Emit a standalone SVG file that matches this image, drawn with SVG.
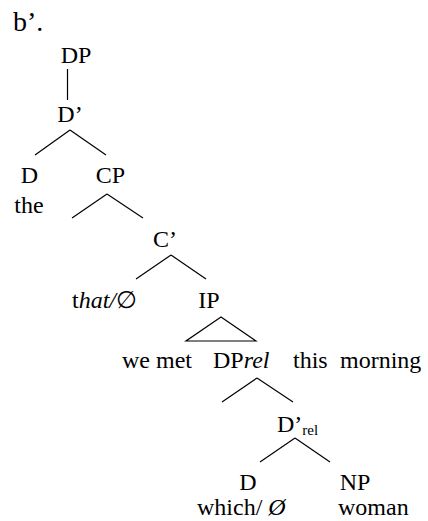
<svg xmlns="http://www.w3.org/2000/svg" width="428" height="521" viewBox="0 0 428 521">
<style>
text{font-family:"Liberation Serif","Times New Roman",serif;font-size:24px;fill:#000}
.m{text-anchor:middle}
.i{font-style:italic}
.sub{font-size:15px}
.big{font-size:28px}
line,polygon{stroke:#000;stroke-width:1.2;fill:none}
</style>
<rect width="428" height="521" fill="#fff"/>
<text class="big" x="13" y="31">b&#8217;.</text>
<g id="connectors">
<line x1="67.5" y1="69" x2="67.5" y2="100"/>
<line x1="70" y1="130" x2="35" y2="155"/>
<line x1="70" y1="130" x2="106" y2="155"/>
<line x1="107" y1="194" x2="72" y2="218"/>
<line x1="107" y1="194" x2="143" y2="218"/>
<line x1="171" y1="255" x2="136" y2="279"/>
<line x1="171" y1="255" x2="206" y2="279"/>
<polygon points="221,317 186,341 256,341"/>
<line x1="257" y1="378" x2="222" y2="402"/>
<line x1="257" y1="378" x2="293" y2="402"/>
<line x1="295" y1="438" x2="260" y2="462"/>
<line x1="295" y1="438" x2="330" y2="462"/>
</g>
<g id="DP"><text class="m" x="76" y="63">DP</text></g>
<g id="Dbar"><text class="m" x="70" y="122">D&#8217;</text></g>
<g id="D"><text class="m" x="29.5" y="183">D</text><text class="m" x="29" y="213">the</text></g>
<g id="CP"><text class="m" x="110.5" y="183">CP</text></g>
<g id="Cbar"><text class="m" x="165" y="247">C&#8217;</text></g>
<g id="C"><text x="72" y="308">t<tspan class="i">hat/</tspan>&#8709;</text></g>
<g id="IP"><text class="m" x="209" y="308">IP</text></g>
<g id="IPyield">
<text x="122" y="368">we met</text>
<text x="213" y="368">DP<tspan class="i">rel</tspan></text>
<text x="293" y="368">this</text>
<text x="340" y="368">morning</text>
</g>
<g id="Dbarrel"><text x="277" y="432">D&#8217;<tspan class="sub" dy="3">rel</tspan></text></g>
<g id="Drel"><text class="m" x="248" y="490">D</text><text x="197" y="515">which/ <tspan class="i">&#216;</tspan></text></g>
<g id="NP"><text class="m" x="355" y="490">NP</text><text x="338" y="515">woman</text></g>
</svg>
